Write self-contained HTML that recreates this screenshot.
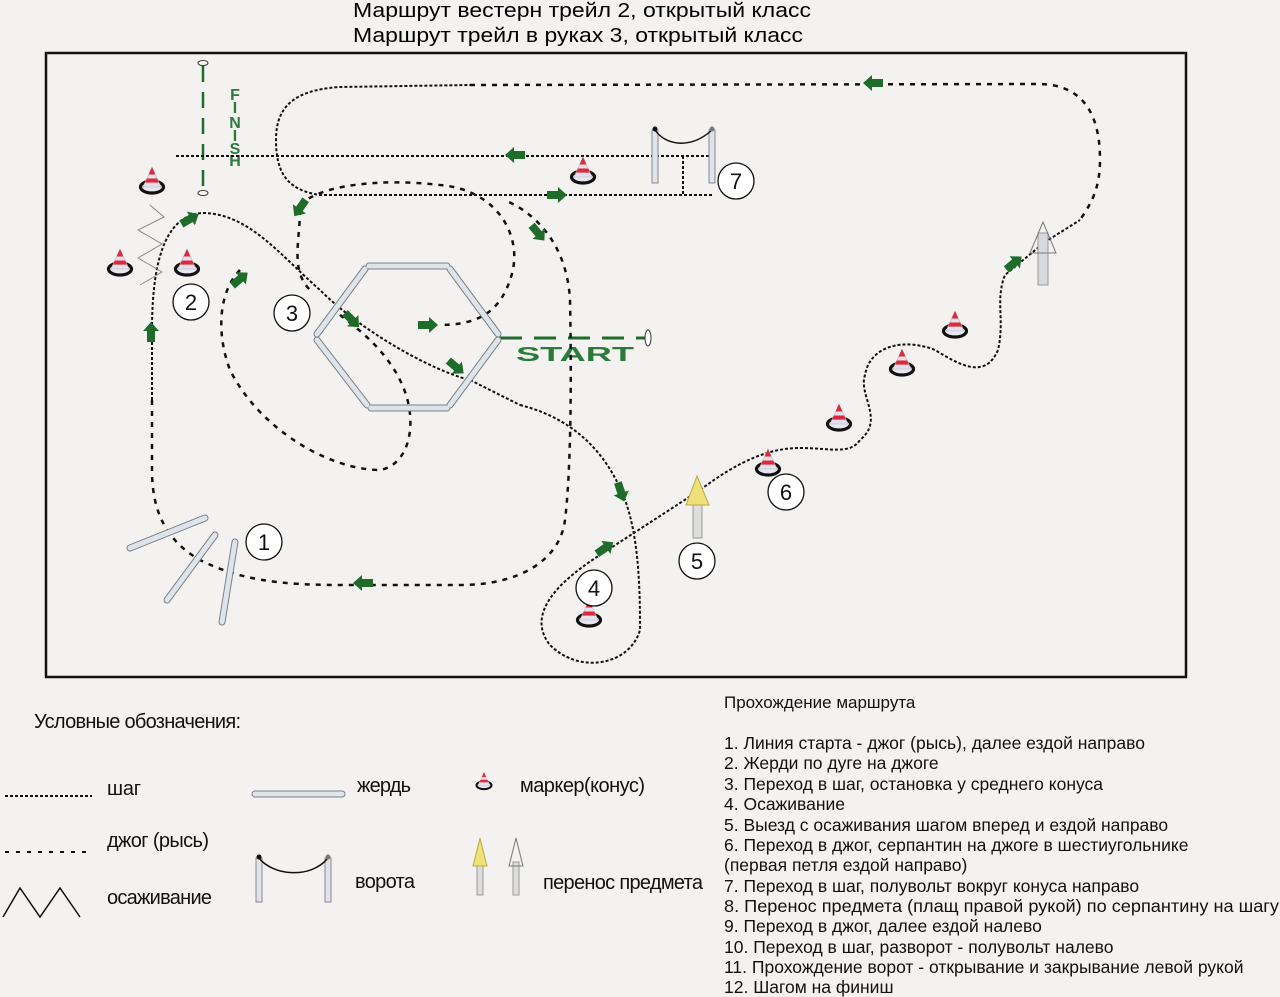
<!DOCTYPE html>
<html><head><meta charset="utf-8"><style>
html,body{margin:0;padding:0;background:#f3f2f0;}
svg{display:block;font-family:"Liberation Sans","Noto Sans CJK SC",sans-serif;}
</style></head><body>
<svg width="1280" height="997" viewBox="0 0 1280 997" xmlns="http://www.w3.org/2000/svg">
<defs>
<polygon id="ar" points="-10,-4 1,-4 1,-8 10,0 1,8 1,4 -10,4" fill="#1e6b2a"/>
<g id="cone">
<ellipse cx="0" cy="5" rx="11.5" ry="6" fill="#e8e6ef" stroke="#111" stroke-width="3.2"/>
<polygon points="0,-15 -9,5 9,5" fill="#e3e1ec" stroke="#bbb" stroke-width="0.6"/>
<polygon points="0,-15 -3.4,-7.5 3.4,-7.5" fill="#e0283c"/>
<polygon points="-5.2,-3.5 5.2,-3.5 6.9,0.6 -6.9,0.6" fill="#e0283c"/>
</g>
</defs>
<rect width="1280" height="997" fill="#f3f2f0"/>
<text x="353" y="17" font-size="20" textLength="458" lengthAdjust="spacingAndGlyphs">Маршрут вестерн трейл 2, открытый класс</text>
<text x="353" y="42" font-size="20" textLength="450" lengthAdjust="spacingAndGlyphs">Маршрут трейл в руках 3, открытый класс</text>
<rect x="46" y="53" width="1140" height="624" fill="none" stroke="#111" stroke-width="2.5"/>

<line x1="203" y1="66" x2="203" y2="188" stroke="#1e6b2a" stroke-width="2.5" stroke-dasharray="16 10"/>
<ellipse cx="203" cy="63" rx="5" ry="2.5" fill="#fff" stroke="#333"/>
<ellipse cx="203" cy="193" rx="5" ry="2.5" fill="#fff" stroke="#333"/>
<g fill="#2a7a3a" font-size="16" font-weight="bold" text-anchor="middle">
<text x="235" y="100">F</text><text x="235" y="113">I</text><text x="235" y="128">N</text><text x="235" y="141">I</text><text x="235" y="154">S</text><text x="235" y="166">H</text></g>

<line x1="500" y1="338" x2="645" y2="338" stroke="#1e6b2a" stroke-width="3" stroke-dasharray="22 12"/>
<ellipse cx="648" cy="338" rx="3" ry="8" fill="#fff" stroke="#333"/>
<text x="516" y="361" font-size="20" font-weight="bold" fill="#2a7a3a" textLength="118" lengthAdjust="spacingAndGlyphs">START</text>

<g fill="none" stroke="#111" stroke-width="2" stroke-dasharray="3 2">
<line x1="176" y1="156" x2="712" y2="156"/>
<path d="M712,195 L320,195 C285,190 276,170 276,140 C276,110 290,90 340,87 L470,85"/>
<line x1="683" y1="156" x2="683" y2="195"/>
<path d="M152,400 L152,330 C152,250 170,213 205,213 C250,215 280,255 320,290 C360,330 430,370 470,380 L520,405"/>
<path d="M520,405 C580,420 610,460 625,500 C640,540 640,600 640,630 C630,665 580,675 550,645 C530,620 545,590 600,555 L700,490 C740,460 770,448 800,448 C830,448 850,455 860,440 C885,420 858,395 865,375 C870,345 905,338 935,350 C960,365 985,380 998,350 C1005,320 995,300 1005,275 L1045,242 L1080,220"/>
</g>
<g fill="none" stroke="#111" stroke-width="2.5" stroke-dasharray="5 6">
<path d="M470,85 L1040,84 C1080,85 1100,110 1100,160 C1100,190 1090,205 1080,220"/>
<path d="M152,400 L152,470 C152,510 165,540 200,560 C240,580 280,585 340,585 L460,585 C520,585 560,560 565,520 C570,480 572,400 570,300 C568,260 550,225 515,205 L505,200"/>
<path d="M300,210 C300,240 290,270 310,290"/>
<path d="M300,205 C320,185 380,178 440,185 C500,190 525,240 510,280 C500,310 480,325 440,325"/>
<path d="M240,270 C220,290 215,330 230,370 C260,430 330,470 380,470 C410,465 420,420 400,380 C385,350 360,330 340,315"/>
</g>

<polyline points="150,205 164,217 138,230 162,244 138,258 162,272 140,285" fill="none" stroke="#888" stroke-width="1"/>

<g stroke-linecap="round">
<g stroke="#7a8088" stroke-width="7">
<line x1="369" y1="266" x2="447" y2="266"/><line x1="450" y1="269" x2="498" y2="334"/><line x1="498" y1="340" x2="450" y2="405"/><line x1="447" y1="408" x2="371" y2="408"/><line x1="367" y1="405" x2="317" y2="340"/><line x1="317" y1="334" x2="365" y2="269"/>
<line x1="130" y1="548" x2="205" y2="518"/><line x1="167" y1="600" x2="215" y2="535"/><line x1="222" y1="622" x2="235" y2="542"/>
<line x1="255" y1="794" x2="342" y2="794"/>
</g>
<g stroke="#dfe4ea" stroke-width="5">
<line x1="369" y1="266" x2="447" y2="266"/><line x1="450" y1="269" x2="498" y2="334"/><line x1="498" y1="340" x2="450" y2="405"/><line x1="447" y1="408" x2="371" y2="408"/><line x1="367" y1="405" x2="317" y2="340"/><line x1="317" y1="334" x2="365" y2="269"/>
<line x1="130" y1="548" x2="205" y2="518"/><line x1="167" y1="600" x2="215" y2="535"/><line x1="222" y1="622" x2="235" y2="542"/>
<line x1="255" y1="794" x2="342" y2="794"/>
</g></g>

<rect x="652" y="130" width="6" height="53" fill="#dfe4ea" stroke="#888"/>
<rect x="709" y="130" width="6" height="53" fill="#dfe4ea" stroke="#888"/>
<path d="M655,130 C665,145 690,150 712,130" fill="none" stroke="#111" stroke-width="1.5"/>
<circle cx="655" cy="129" r="2.5" fill="#111"/><circle cx="712" cy="129" r="2.5" fill="#777"/>

<rect x="693" y="490" width="9" height="48" fill="#ddd" stroke="#999"/>
<polygon points="697,476 686,505 709,505" fill="#efe07a" stroke="#b9a940"/>
<rect x="1038" y="233" width="10" height="52" fill="#d8d9dc" stroke="#999"/>
<polygon points="1043,222 1030,253 1056,253" fill="none" stroke="#777"/>

<use href="#cone" transform="translate(152,182)"/>
<use href="#cone" transform="translate(120,264)"/>
<use href="#cone" transform="translate(187,264)"/>
<use href="#cone" transform="translate(583,172)"/>
<use href="#cone" transform="translate(589,615)"/>
<use href="#cone" transform="translate(768,464)"/>
<use href="#cone" transform="translate(839,419)"/>
<use href="#cone" transform="translate(902,364)"/>
<use href="#cone" transform="translate(955,326)"/>

<use href="#ar" transform="translate(515,155) rotate(180)"/>
<use href="#ar" transform="translate(557,195)"/>
<use href="#ar" transform="translate(428,325)"/>
<use href="#ar" transform="translate(352,320) rotate(45)"/>
<use href="#ar" transform="translate(456,367) rotate(40)"/>
<use href="#ar" transform="translate(300,208) rotate(125)"/>
<use href="#ar" transform="translate(538,233) rotate(50)"/>
<use href="#ar" transform="translate(190,219) rotate(-30)"/>
<use href="#ar" transform="translate(240,279) rotate(-40)"/>
<use href="#ar" transform="translate(151,332) rotate(-90)"/>
<use href="#ar" transform="translate(621,492) rotate(72)"/>
<use href="#ar" transform="translate(605,548) rotate(-35)"/>
<use href="#ar" transform="translate(363,583) rotate(180)"/>
<use href="#ar" transform="translate(873,83) rotate(180)"/>
<use href="#ar" transform="translate(1014,263) rotate(-40)"/>

<g fill="#fff" stroke="#111" stroke-width="1.3">
<circle cx="264" cy="542" r="18"/><circle cx="191" cy="302" r="18"/><circle cx="292" cy="313" r="18"/>
<circle cx="594" cy="588" r="18"/><circle cx="697" cy="561" r="18"/><circle cx="786" cy="492" r="18"/><circle cx="736" cy="181" r="18"/></g>
<g font-size="22" text-anchor="middle" fill="#111">
<text x="264" y="550">1</text><text x="191" y="310">2</text><text x="292" y="321">3</text><text x="594" y="596">4</text><text x="697" y="569">5</text><text x="786" y="500">6</text><text x="736" y="189">7</text></g>

<g font-size="20" fill="#111">
<text x="34" y="728" textLength="207">Условные обозначения:</text>
<text x="107" y="795" textLength="34">шаг</text>
<text x="107" y="847" textLength="102">джог (рысь)</text>
<text x="107" y="904" textLength="105">осаживание</text>
<text x="357" y="792" textLength="54">жердь</text>
<text x="355" y="888" textLength="60">ворота</text>
<text x="520" y="792" textLength="125">маркер(конус)</text>
<text x="543" y="889" textLength="160">перенос предмета</text>
</g>
<line x1="5" y1="796" x2="92" y2="796" stroke="#111" stroke-width="2" stroke-dasharray="3 2"/>
<line x1="5" y1="852" x2="92" y2="852" stroke="#111" stroke-width="2" stroke-dasharray="4 7"/>
<polyline points="3,917 20,888 40,917 60,888 80,917" fill="none" stroke="#111" stroke-width="1.5"/>
<rect x="256" y="858" width="6" height="44" fill="#dfe4ea" stroke="#888"/>
<rect x="325" y="858" width="6" height="44" fill="#dfe4ea" stroke="#888"/>
<path d="M259,858 C272,875 310,880 328,858" fill="none" stroke="#111" stroke-width="1.5"/>
<circle cx="259" cy="857" r="2.5" fill="#111"/><circle cx="328" cy="857" r="2.5" fill="#777"/>
<g transform="translate(484,782) scale(0.65)"><use href="#cone"/></g>
<rect x="477" y="862" width="6" height="33" fill="#ddd" stroke="#999"/>
<polygon points="480,838 473,866 487,866" fill="#efe07a" stroke="#b9a940"/>
<rect x="513" y="862" width="6" height="33" fill="#ddd" stroke="#999"/>
<polygon points="516,838 509,866 523,866" fill="none" stroke="#777"/>

<g font-size="17.5" fill="#111">
<text x="724" y="708" font-size="17">Прохождение маршрута</text>
<text x="724" y="749">1. Линия старта - джог (рысь), далее ездой направо</text>
<text x="724" y="769">2. Жерди по дуге на джоге</text>
<text x="724" y="790">3. Переход в шаг, остановка у среднего конуса</text>
<text x="724" y="810">4. Осаживание</text>
<text x="724" y="831">5. Выезд с осаживания шагом вперед и ездой направо</text>
<text x="724" y="851">6. Переход в джог, серпантин на джоге в шестиугольнике</text>
<text x="724" y="871">(первая петля ездой направо)</text>
<text x="724" y="892">7. Переход в шаг, полувольт вокруг конуса направо</text>
<text x="724" y="912" textLength="555" lengthAdjust="spacingAndGlyphs">8. Перенос предмета (плащ правой рукой) по серпантину на шагу</text>
<text x="724" y="932">9. Переход в джог, далее ездой налево</text>
<text x="724" y="953">10. Переход в шаг, разворот  - полувольт налево</text>
<text x="724" y="973">11. Прохождение ворот  - открывание и закрывание левой рукой</text>
<text x="724" y="993">12. Шагом на финиш</text>
</g>
</svg>
</body></html>
